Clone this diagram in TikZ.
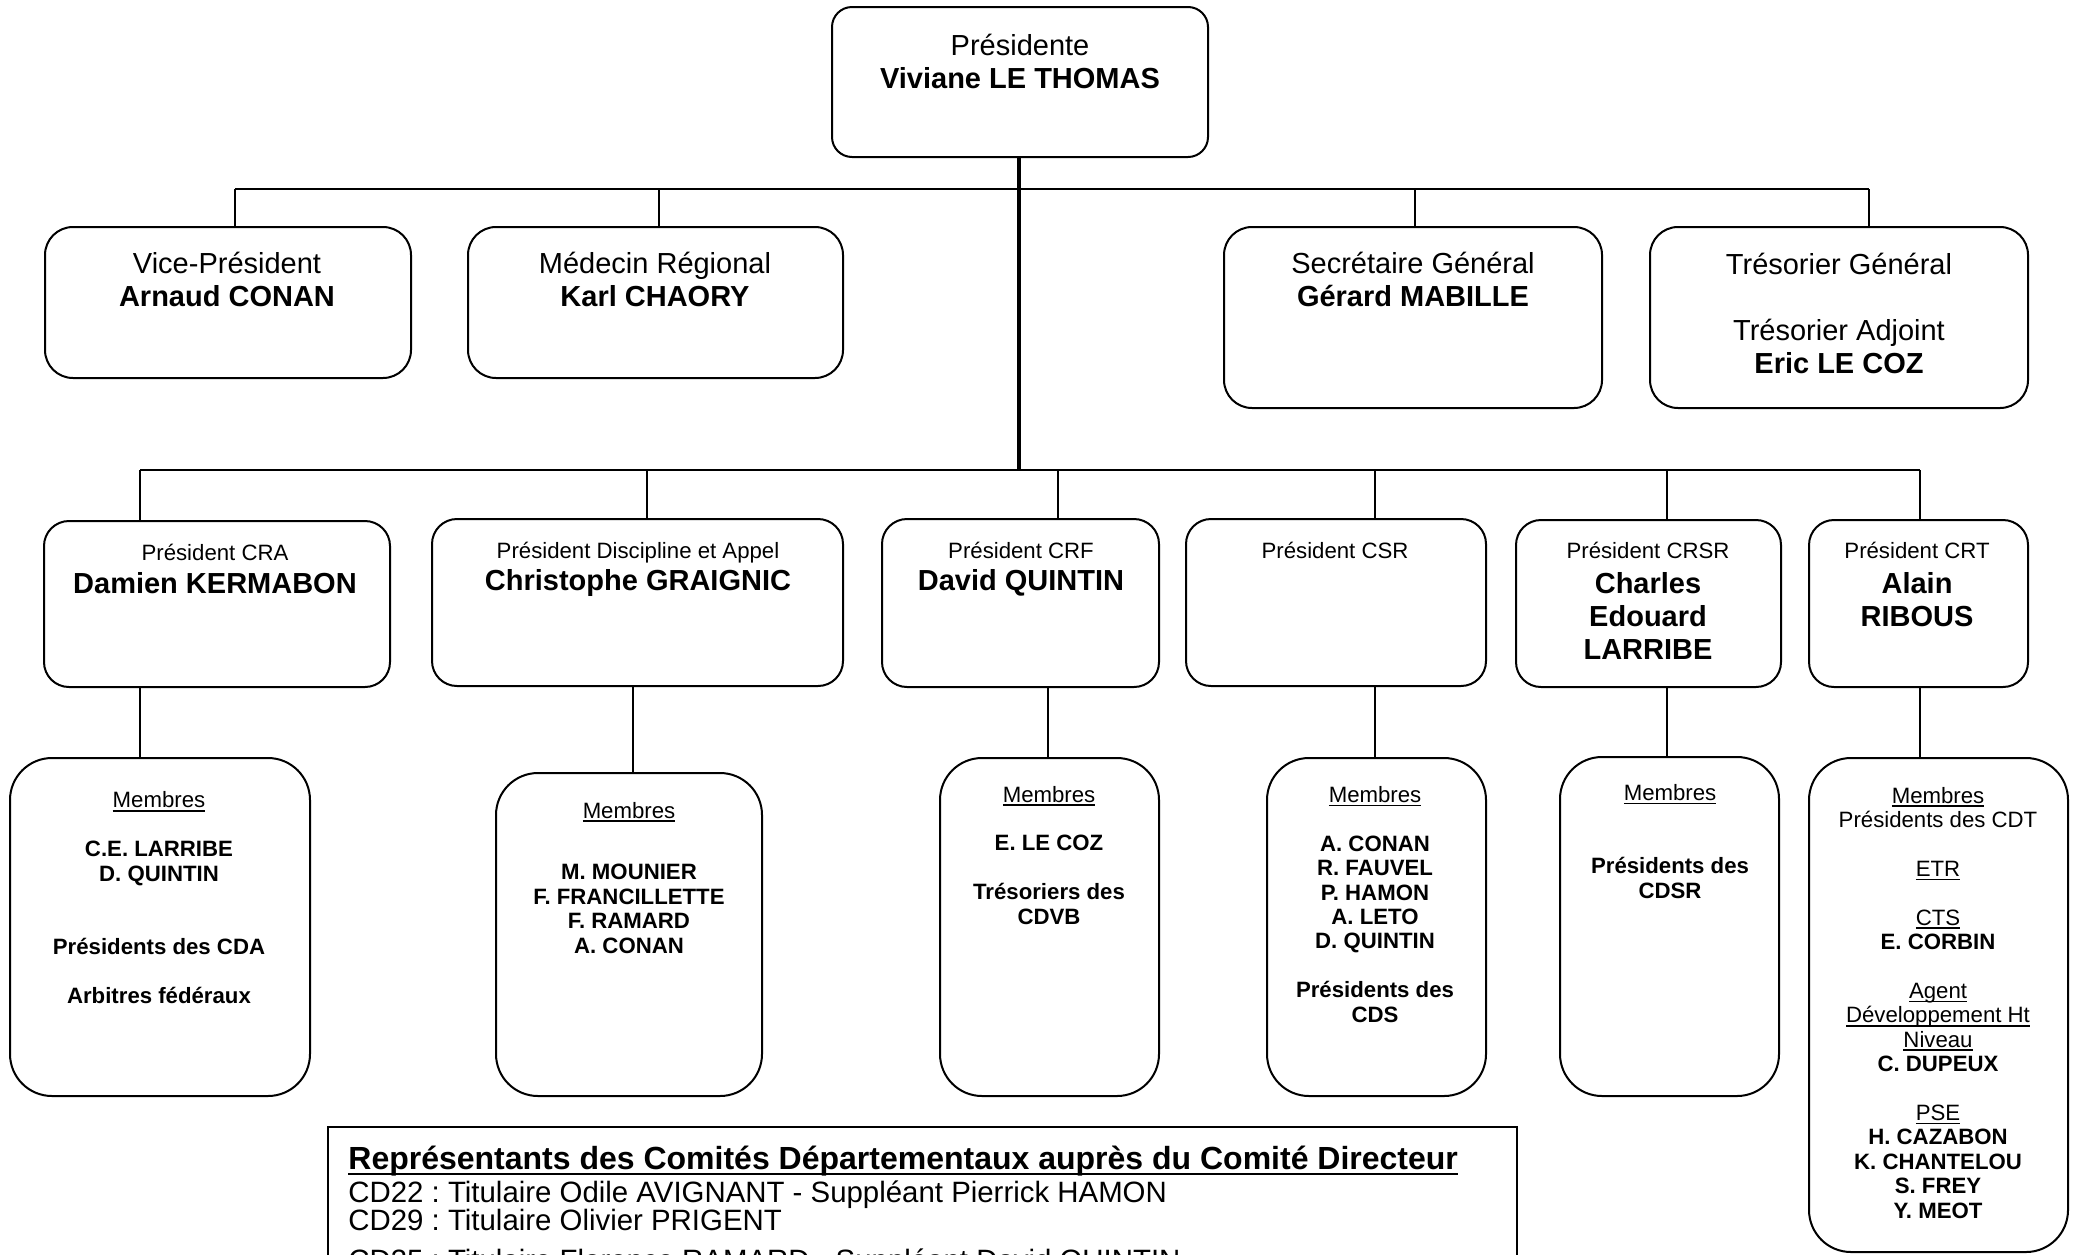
\documentclass[tikz,border=0pt]{standalone}
\usepackage{fontspec}
\setmainfont{Liberation Sans}
\usetikzlibrary{fit}
\frenchspacing
\newsavebox\ulbox
\newcommand\ulx[1]{\sbox\ulbox{#1}\rlap{\vrule width\wd\ulbox height -0.1em depth 0.17em}\usebox\ulbox}
\newcommand\fbig{\fontsize{14.5}{16.5}\selectfont}
\newcommand\fsm{\fontsize{11.1}{12.2}\selectfont}
\newcommand\frep{\fontsize{14.7}{14}\selectfont}
\begin{document}
\begin{tikzpicture}[x=0.5pt,y=-0.5pt,
  rbox/.style={draw, line width=1pt, inner sep=0pt},
  boxP/.style={rbox, rounded corners=10pt},
  boxA/.style={rbox, rounded corners=14pt},
  boxB/.style={rbox, rounded corners=12.5pt},
  boxC/.style={rbox, rounded corners=21pt},
  txt/.style={anchor=base, align=center, inner sep=0pt},
  bigtxt/.style={txt, font=\fbig},
  smtxt/.style={txt, font=\fsm},
  link/.style={line width=0.8pt},
  bus/.style={line width=1.2pt},
  trunk/.style={line width=1.7pt}]
\useasboundingbox (0,0) rectangle (2080,1254);
\fill[white] (0,0) rectangle (2080,1254);
\clip (0,0) rectangle (2080,1254);

% ---------- boxes ----------
\node[boxP, fit={(832,7) (1208,157)}] (pres) {};
\node[boxA, fit={(45,227) (411,378)}] (vp) {};
\node[boxA, fit={(468,227) (843,378)}] (med) {};
\node[boxA, fit={(1224,227) (1602,408)}] (sec) {};
\node[boxA, fit={(1650,227) (2028,408)}] (tres) {};

\node[boxB, fit={(44,521) (390,687)}] (cra) {};
\node[boxB, fit={(432,519) (843,686)}] (dis) {};
\node[boxB, fit={(882,519) (1159,687)}] (crf) {};
\node[boxB, fit={(1186,519) (1486,686)}] (csr) {};
\node[boxB, fit={(1516,520) (1781,687)}] (crsr) {};
\node[boxB, fit={(1809,520) (2028,687)}] (crt) {};

\node[boxC, fit={(10,758) (310,1096)}] (mcra) {};
\node[boxC, fit={(496,773) (762,1096)}] (mdis) {};
\node[boxC, fit={(940,758) (1159,1096)}] (mcrf) {};
\node[boxC, fit={(1267,758) (1486,1096)}] (mcsr) {};
\node[boxC, fit={(1560,757) (1779,1096)}] (mcrsr) {};
\node[boxC, fit={(1809,758) (2068,1252)}] (mcrt) {};

\node[draw, line width=1.15pt, inner sep=0pt, fit={(328,1127) (1517,1330)}] (rep) {};

% ---------- texts (anchor = baseline of the last line) ----------
\node[bigtxt] (pres-t) at (1020,88) {Présidente\\\textbf{Viviane LE THOMAS}};
\node[bigtxt] (vp-t) at (227,306) {Vice-Président\\\textbf{Arnaud CONAN}};
\node[bigtxt] (med-t) at (655,306) {Médecin Régional\\\textbf{Karl CHAORY}};
\node[bigtxt] (sec-t) at (1413,306) {Secrétaire Général\\\textbf{Gérard MABILLE}};
\node[bigtxt] (tres-t) at (1839,373) {Trésorier Général\\[16.5pt]Trésorier Adjoint\\\textbf{Eric LE COZ}};

\node[smtxt] (cra-h) at (215,560) {Président CRA};
\node[bigtxt] (cra-t) at (215,593) {\textbf{Damien KERMABON}};
\node[smtxt] (dis-h) at (638,558) {Président Discipline et Appel};
\node[bigtxt] (dis-t) at (638,590) {\textbf{Christophe GRAIGNIC}};
\node[smtxt] (crf-h) at (1021,558) {Président CRF};
\node[bigtxt] (crf-t) at (1021,590) {\textbf{David QUINTIN}};
\node[smtxt] (csr-h) at (1335,558) {Président CSR};
\node[smtxt] (crsr-h) at (1648,558) {Président CRSR};
\node[bigtxt] (crsr-t) at (1648,659) {\textbf{Charles}\\\textbf{Edouard}\\\textbf{LARRIBE}};
\node[smtxt] (crt-h) at (1917,558) {Président CRT};
\node[bigtxt] (crt-t) at (1917,626) {\textbf{Alain}\\\textbf{RIBOUS}};

\node[smtxt] (mcra-t) at (159,1003) {\ulx{Membres}\\[12.2pt]\textbf{C.E. LARRIBE}\\\textbf{D. QUINTIN}\\[24.4pt]\textbf{Présidents des CDA}\\[12.2pt]\textbf{Arbitres fédéraux}};
\node[smtxt] (mdis-t) at (629,953) {\ulx{Membres}\\[18.7pt]\textbf{M. MOUNIER}\\\textbf{F. FRANCILLETTE}\\\textbf{F. RAMARD}\\\textbf{A. CONAN}};
\node[smtxt] (mcrf-t) at (1049,924) {\ulx{Membres}\\[12.2pt]\textbf{E. LE COZ}\\[12.2pt]\textbf{Trésoriers des}\\\textbf{CDVB}};
\node[smtxt] (mcsr-t) at (1375,1022) {\ulx{Membres}\\[12.2pt]\textbf{A. CONAN}\\\textbf{R. FAUVEL}\\\textbf{P. HAMON}\\\textbf{A. LETO}\\\textbf{D. QUINTIN}\\[12.2pt]\textbf{Présidents des}\\\textbf{CDS}};
\node[smtxt] (mcrsr-t) at (1670,898) {\ulx{Membres}\\[24.4pt]\textbf{Présidents des}\\\textbf{CDSR}};
\node[smtxt] (mcrt-t) at (1938,1218) {\ulx{Membres}\\Présidents des CDT\\[12.2pt]\ulx{ETR}\\[12.2pt]\ulx{CTS}\\\textbf{E. CORBIN}\\[12.2pt]\ulx{Agent}\\\ulx{Développement Ht}\\\ulx{Niveau}\\\textbf{C. DUPEUX}\\[12.2pt]\ulx{PSE}\\\textbf{H. CAZABON}\\\textbf{K. CHANTELOU}\\\textbf{S. FREY}\\\textbf{Y. MEOT}};

\node[anchor=base west, align=left, inner sep=0pt, font=\frep] (rep-t) at (348,1270)
  {{\fontsize{16}{14}\selectfont\bfseries\ulx{Représentants des Comités Départementaux auprès du Comité Directeur}}\\[1pt]
   CD22 : Titulaire Odile AVIGNANT - Suppléant Pierrick HAMON\\
   CD29 : Titulaire Olivier PRIGENT\\[6pt]
   CD35 : Titulaire Florence RAMARD - Suppléant David QUINTIN};

% ---------- connectors ----------
\coordinate (b1a) at (235,189);
\coordinate (b1b) at (659,189);
\coordinate (b1c) at (1415,189);
\coordinate (b1d) at (1869,189);
\coordinate (b2a) at (140,470);
\coordinate (b2b) at (647,470);
\coordinate (b2c) at (1058,470);
\coordinate (b2d) at (1375,470);
\coordinate (b2e) at (1667,470);
\coordinate (b2f) at (1920,470);
\coordinate (b2t) at (1019,470);
\coordinate (xdis) at (633,0);
\coordinate (xcrf) at (1048,0);

\draw[trunk] (pres.south -| b2t) -- (b2t);
\draw[bus] (b1a) -- (b1d);
\draw[link] (b1a) -- (b1a |- vp.north);
\draw[link] (b1b) -- (b1b |- med.north);
\draw[link] (b1c) -- (b1c |- sec.north);
\draw[link] (b1d) -- (b1d |- tres.north);

\draw[bus] (b2a) -- (b2f);
\draw[link] (b2a) -- (b2a |- cra.north);
\draw[link] (b2b) -- (b2b |- dis.north);
\draw[link] (b2c) -- (b2c |- crf.north);
\draw[link] (b2d) -- (b2d |- csr.north);
\draw[link] (b2e) -- (b2e |- crsr.north);
\draw[link] (b2f) -- (b2f |- crt.north);

\draw[link] (cra.south -| b2a) -- (mcra.north -| b2a);
\draw[link] (dis.south -| xdis) -- (mdis.north -| xdis);
\draw[link] (crf.south -| xcrf) -- (mcrf.north -| xcrf);
\draw[link] (csr.south -| b2d) -- (mcsr.north -| b2d);
\draw[link] (crsr.south -| b2e) -- (mcrsr.north -| b2e);
\draw[link] (crt.south -| b2f) -- (mcrt.north -| b2f);
\end{tikzpicture}
\end{document}
